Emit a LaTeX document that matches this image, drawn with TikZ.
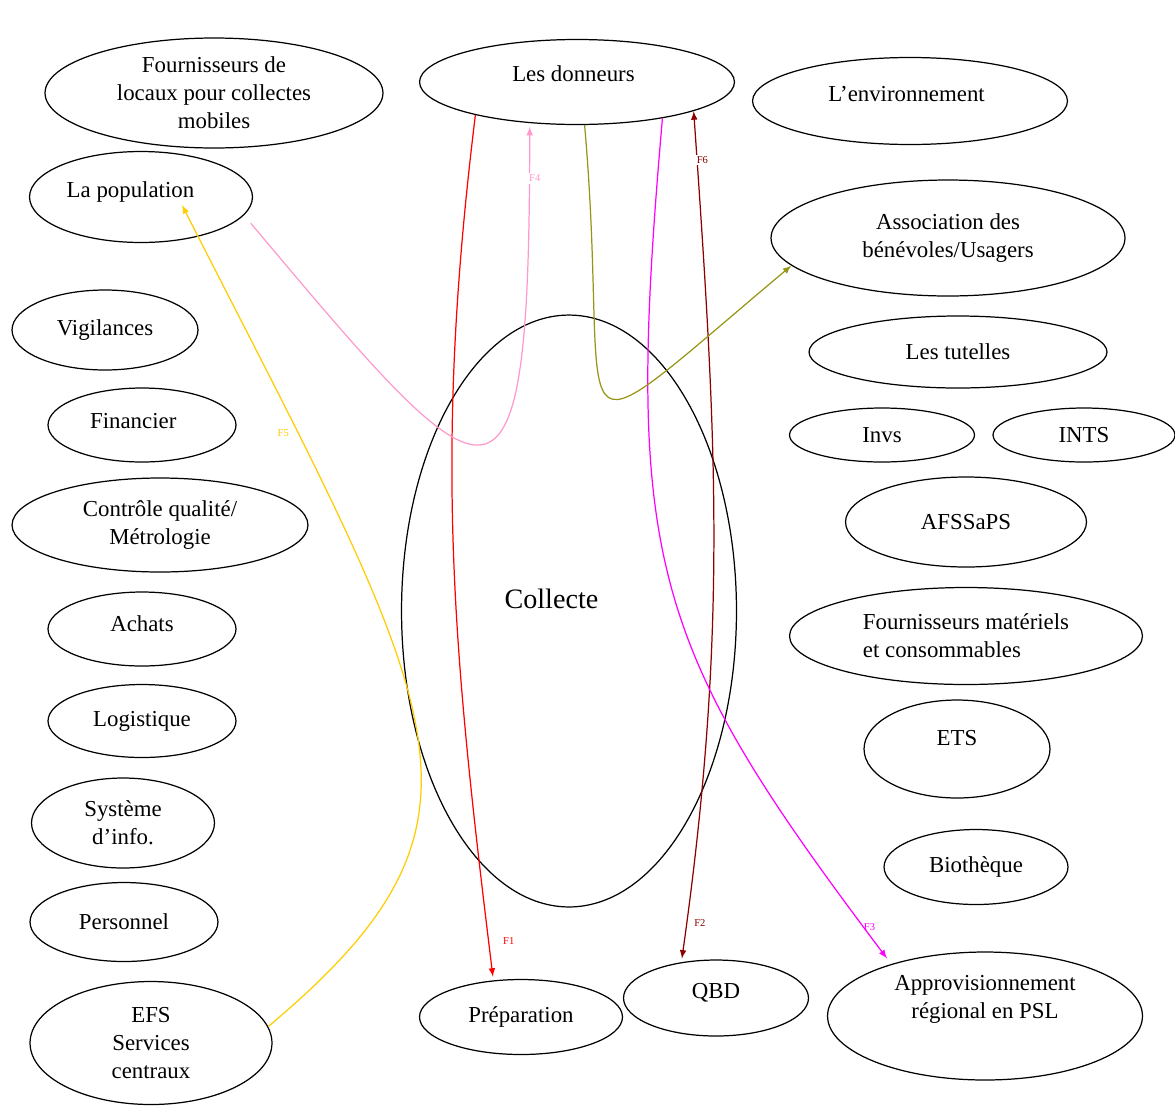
\documentclass[tikz,border=0pt]{standalone}
\usepackage{fontspec}
\setmainfont{Liberation Serif}
\usetikzlibrary{shapes.geometric}

\definecolor{fluxred}{RGB}{255,0,0}
\definecolor{fluxmaroon}{RGB}{140,0,0}
\definecolor{fluxmagenta}{RGB}{255,0,255}
\definecolor{fluxpink}{RGB}{255,153,204}
\definecolor{fluxgold}{RGB}{255,204,0}
\definecolor{fluxolive}{RGB}{150,150,20}

% move a text inside its ellipse without changing the ellipse
\newcommand{\txtnudge}[3]{\raisebox{#2}[\height][\depth]{\rlap{\hspace*{#1}#3}\phantom{#3}}}

\begin{document}
\begin{tikzpicture}[x=0.02cm, y=-0.02cm, >=latex,
  actor/.style={ellipse, draw, line width=0.7pt, inner sep=0pt, font=\fontsize{13}{16}\selectfont},
  flux/.style={->, line width=0.7pt},
  flab/.style={font=\fontsize{6}{7}\selectfont, inner sep=1pt}]
  \useasboundingbox (0,0) rectangle (1175,1109);

  % left column
  \node[actor, minimum width=6.76cm, minimum height=2.2cm, align=center] (locaux) at (214,93) {Fournisseurs de\\locaux pour collectes\\mobiles};
  \node[actor, minimum width=4.46cm, minimum height=1.82cm] (pop) at (141,197) {\txtnudge{-6pt}{3pt}{La population}};
  \node[actor, minimum width=3.72cm, minimum height=1.6cm] (vigil) at (105,330) {Vigilances};
  \node[actor, minimum width=3.76cm, minimum height=1.48cm] (financ) at (142,425) {\txtnudge{-5pt}{2pt}{Financier}};
  \node[actor, minimum width=5.92cm, minimum height=1.88cm, align=center] (qualite) at (160,525) {Contrôle qualité/\\Métrologie};
  \node[actor, minimum width=3.76cm, minimum height=1.48cm] (achats) at (142,629) {\txtnudge{0pt}{3pt}{Achats}};
  \node[actor, minimum width=3.76cm, minimum height=1.46cm] (logist) at (142,721) {Logistique};
  \node[actor, minimum width=3.66cm, minimum height=1.8cm, align=center] (sysinfo) at (123,823) {Système\\d’info.};
  \node[actor, minimum width=3.76cm, minimum height=1.58cm] (personnel) at (124,922) {Personnel};
  \node[actor, minimum width=4.84cm, minimum height=2.46cm, align=center] (efs) at (151,1043) {EFS\\Services\\centraux};

  % centre
  \node[actor, minimum width=6.3cm, minimum height=1.7cm] (donneurs) at (577,82) {\txtnudge{-2pt}{5pt}{Les donneurs}};
  \node[actor, minimum width=6.7cm, minimum height=11.84cm, font=\fontsize{16}{19}\selectfont] (collecte) at (569,611) {\txtnudge{-10pt}{7pt}{Collecte}};
  \node[actor, minimum width=4.06cm, minimum height=1.5cm] (prep) at (521,1017) {Préparation};
  \node[actor, minimum width=3.7cm, minimum height=1.52cm] (qbd) at (716,998) {\txtnudge{0pt}{3pt}{QBD}};

  % right column
  \node[actor, minimum width=6.3cm, minimum height=1.74cm] (envir) at (910,101) {\txtnudge{-2pt}{4pt}{L’environnement}};
  \node[actor, minimum width=7.08cm, minimum height=2.32cm, align=center] (assoc) at (948,238) {Association des\\bénévoles/Usagers};
  \node[actor, minimum width=5.96cm, minimum height=1.44cm] (tutelles) at (958,352) {Les tutelles};
  \node[actor, minimum width=3.7cm, minimum height=1.08cm] (invs) at (882,435) {Invs};
  \node[actor, minimum width=3.64cm, minimum height=1.08cm] (ints) at (1084,435) {INTS};
  \node[actor, minimum width=4.82cm, minimum height=1.8cm] (afssaps) at (966,522) {AFSSaPS};
  \node[actor, minimum width=7.06cm, minimum height=1.94cm, align=left] (fmat) at (966,636) {Fournisseurs matériels\\et consommables};
  \node[actor, minimum width=3.72cm, minimum height=1.96cm] (ets) at (957,749) {\txtnudge{0pt}{6pt}{ETS}};
  \node[actor, minimum width=3.68cm, minimum height=1.5cm] (bioth) at (976,867) {Biothèque};
  \node[actor, minimum width=6.3cm, minimum height=2.56cm] (appro) at (985,1016) {\txtnudge{0pt}{10pt}{\begin{tabular}{@{}c@{}}Approvisionnement\\régional en PSL\end{tabular}}};

  % flux
  \draw[flux, fluxred, shorten >=2pt] (donneurs.198) to[out=-97, in=97] node[flab, pos=0.96, right=7pt] {F1} (prep.127);
  \draw[flux, fluxmaroon, <->, shorten >=2pt] (donneurs.-14) to[out=-86, in=82] node[flab, pos=0.05, fill=white, xshift=3pt] {F6} node[flab, pos=0.96, right=3pt] {F2} (qbd.134);
  \draw[flux, fluxmagenta, shorten >=4pt] (donneurs.-23) to[out=-95, in=127, out distance=8.9cm, in distance=8cm] node[flab, pos=0.96, right=-1pt] {F3} (appro.151);
  \draw[flux, fluxpink, shorten <=6pt, shorten >=2pt] (pop.-10) to[out=-50, in=-90, out distance=7.8cm, in distance=8.6cm] node[flab, pos=0.955, fill=white, xshift=3pt] {F4} (donneurs.221);
  \draw[flux, fluxgold] (efs.8) to[out=40, in=-63, out distance=6.5cm, in distance=11.5cm] node[flab, pos=0.83, left=4pt] {F5} ([xshift=0.82cm, yshift=-0.16cm]pop.center);
  \draw[flux, fluxolive] (donneurs.-80) to[out=-85, in=-140, looseness=3.3] (assoc.190);
\end{tikzpicture}
\end{document}
